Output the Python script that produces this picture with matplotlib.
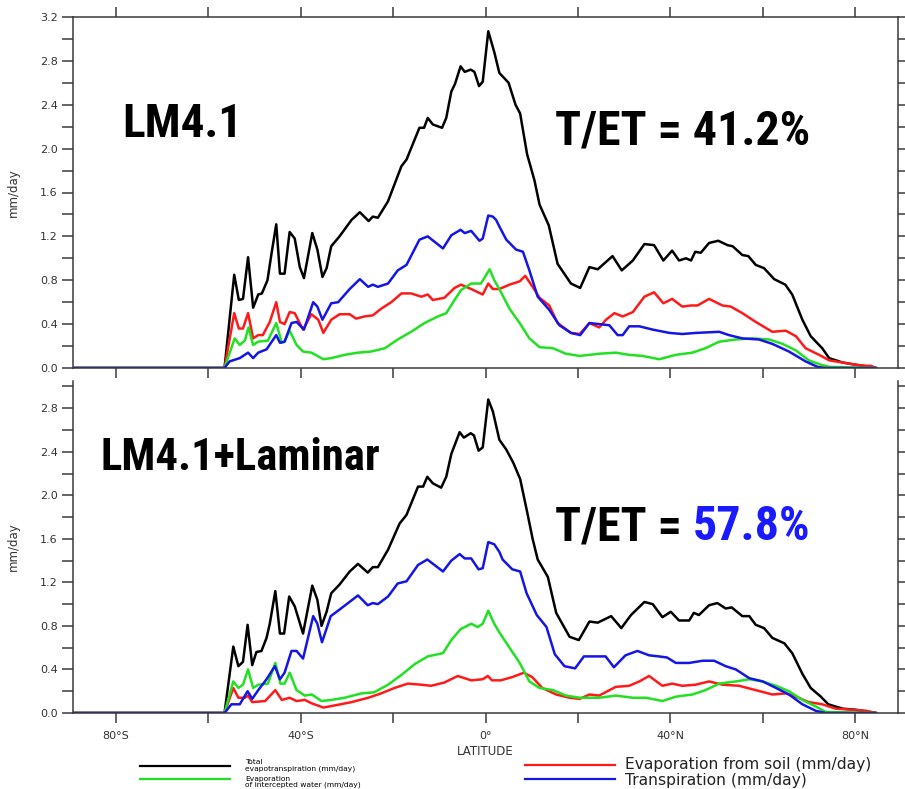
import numpy as np
import matplotlib
matplotlib.use("Agg")
import matplotlib.pyplot as plt
from matplotlib import font_manager as fm
from matplotlib.ticker import MultipleLocator, FuncFormatter
from matplotlib.lines import Line2D

# ---- LM4.1 (oben) ----
lat_et1 = [-89.5, -56.5, -54.4, -53.4, -52.5, -51.4, -50.3, -49.2, -48.4, -47.2, -46.3, -45.3, -44.5, -43.5,
           -42.4, -41.3, -40.2, -39.3, -37.5, -36.4, -35.3, -34.4, -33.4, -31.6, -29.0, -27.2, -25.3, -24.4,
           -23.3, -21.1, -18.2, -17.1, -14.3, -13.3, -12.5, -11.4, -9.4, -8.5, -7.4, -6.6, -5.4, -4.5, -3.2,
           -2.4, -1.4, -0.6, 0.6, 1.9, 3.0, 5.0, 6.5, 7.5, 9.0, 10.6, 11.7, 13.7, 15.6, 18.5, 20.5, 22.5, 24.3,
           27.5, 29.5, 31.9, 34.4, 36.5, 38.5, 40.4, 41.9, 43.4, 44.5, 45.4, 46.6, 48.4, 50.4, 52.4, 53.5, 55.6,
           56.9, 58.5, 60.3, 62.5, 64.9, 66.4, 68.6, 70.4, 72.9, 74.4, 77.3, 80.1, 83.0, 84.5]
et1 = [0, 0, 0.85, 0.62, 0.63, 1.01, 0.55, 0.67, 0.68, 0.80, 1.05, 1.31, 0.86, 0.86,
       1.24, 1.18, 0.92, 0.82, 1.23, 1.08, 0.83, 0.91, 1.11, 1.20, 1.35, 1.42, 1.34, 1.38,
       1.37, 1.52, 1.84, 1.90, 2.19, 2.19, 2.28, 2.22, 2.19, 2.28, 2.52, 2.59, 2.75, 2.70, 2.72,
       2.70, 2.57, 2.61, 3.07, 2.88, 2.69, 2.60, 2.40, 2.32, 1.95, 1.71, 1.49, 1.30, 0.95, 0.77, 0.73, 0.92, 0.90,
       1.02, 0.89, 0.98, 1.13, 1.12, 0.98, 1.07, 0.98, 1.00, 0.98, 1.06, 1.05, 1.14, 1.16, 1.12, 1.11, 1.03,
       1.02, 0.94, 0.91, 0.81, 0.76, 0.67, 0.44, 0.29, 0.18, 0.09, 0.05, 0.03, 0.01, 0.0]

lat_tr1 = [-89.5, -56.5, -55.4, -53.2, -51.4, -50.3, -49.2, -47.4, -45.3, -44.5, -43.5, -42.0, -40.9, -39.3,
           -37.3, -36.4, -35.3, -33.4, -31.9, -29.4, -27.2, -25.4, -24.4, -23.3, -21.1, -19.0, -17.1, -14.3,
           -12.5, -9.2, -7.4, -5.4, -4.5, -3.1, -1.3, -0.6, 0.6, 1.6, 2.3, 3.0, 4.5, 6.6, 8.1, 9.5, 11.3, 13.8,
           16.0, 18.5, 20.5, 22.5, 24.6, 26.8, 28.6, 29.7, 31.1, 33.3, 36.2, 39.8, 42.6, 45.6, 50.6, 52.7, 55.6,
           59.2, 62.1, 65.7, 69.3, 71.9, 73.5, 84.5]
tr1 = [0, 0, 0.06, 0.09, 0.14, 0.09, 0.14, 0.17, 0.30, 0.23, 0.24, 0.41, 0.42, 0.35,
       0.60, 0.56, 0.44, 0.59, 0.60, 0.72, 0.81, 0.74, 0.76, 0.74, 0.77, 0.89, 0.94, 1.17,
       1.20, 1.09, 1.21, 1.26, 1.23, 1.25, 1.16, 1.18, 1.39, 1.38, 1.35, 1.29, 1.17, 1.08, 1.06, 0.89, 0.65, 0.53,
       0.39, 0.32, 0.30, 0.41, 0.40, 0.39, 0.30, 0.30, 0.38, 0.38, 0.35, 0.32, 0.31, 0.32, 0.33, 0.30, 0.27,
       0.26, 0.22, 0.15, 0.06, 0.01, 0.0, 0.0]

lat_es1 = [-89.5, -56.5, -54.4, -53.4, -52.5, -51.4, -50.3, -49.2, -48.2, -46.7, -45.3, -44.5, -43.5, -42.4,
           -41.3, -39.5, -37.7, -36.2, -35.1, -33.4, -31.6, -29.4, -28.0, -26.2, -24.4, -22.6, -20.4, -18.2,
           -16.1, -13.9, -12.5, -11.4, -8.9, -6.7, -5.3, -3.1, -0.6, 0.6, 1.6, 3.0, 5.2, 7.4, 8.6, 10.2, 11.7,
           13.8, 15.6, 18.5, 20.4, 22.5, 24.6, 26.1, 27.9, 29.7, 31.9, 34.4, 36.5, 38.5, 40.4, 42.6, 44.5, 45.9,
           48.4, 51.3, 53.1, 55.6, 58.5, 62.1, 65.0, 67.2, 69.3, 72.2, 74.4, 77.3, 80.1, 82.5, 83.5, 84.5]
es1 = [0, 0, 0.50, 0.36, 0.36, 0.50, 0.27, 0.30, 0.30, 0.42, 0.60, 0.42, 0.40, 0.51,
       0.50, 0.35, 0.49, 0.44, 0.32, 0.44, 0.49, 0.49, 0.45, 0.47, 0.48, 0.54, 0.60, 0.68,
       0.68, 0.65, 0.67, 0.62, 0.64, 0.73, 0.76, 0.72, 0.67, 0.77, 0.72, 0.72, 0.76, 0.79, 0.84, 0.74, 0.64,
       0.57, 0.41, 0.32, 0.31, 0.41, 0.37, 0.44, 0.50, 0.47, 0.51, 0.65, 0.69, 0.59, 0.63, 0.56, 0.57, 0.57,
       0.63, 0.57, 0.56, 0.50, 0.42, 0.33, 0.34, 0.29, 0.18, 0.12, 0.07, 0.05, 0.03, 0.02, 0.02, 0.0]

lat_ei1 = [-89.5, -56.5, -54.3, -53.2, -52.1, -51.3, -50.3, -49.2, -47.1, -45.3, -44.1, -43.5, -42.4, -40.9,
           -39.5, -37.7, -35.1, -33.4, -30.5, -27.6, -24.8, -21.8, -19.0, -16.1, -13.2, -10.3, -8.5, -6.7,
           -5.3, -3.1, -1.0, 0.9, 1.9, 3.0, 5.2, 7.4, 9.5, 11.7, 14.6, 17.4, 20.4, 24.6, 28.2, 31.1, 34.0,
           37.6, 41.2, 44.8, 47.6, 50.6, 54.2, 57.8, 61.4, 64.3, 67.2, 70.0, 72.6, 74.4, 84.5]
ei1 = [0, 0, 0.27, 0.21, 0.25, 0.37, 0.21, 0.24, 0.25, 0.41, 0.23, 0.24, 0.34, 0.21,
       0.15, 0.14, 0.08, 0.09, 0.12, 0.14, 0.15, 0.18, 0.26, 0.33, 0.41, 0.47, 0.50, 0.62,
       0.71, 0.77, 0.77, 0.90, 0.80, 0.72, 0.54, 0.41, 0.27, 0.19, 0.18, 0.13, 0.11, 0.13, 0.14, 0.12, 0.11,
       0.08, 0.12, 0.14, 0.18, 0.24, 0.26, 0.27, 0.26, 0.22, 0.16, 0.07, 0.03, 0.01, 0.0]

# ---- LM4.1+Laminar (unten) ----
lat_et2 = [-89.5, -56.5, -54.6, -53.5, -52.5, -51.5, -50.5, -49.6, -48.5, -47.4, -46.7, -45.5, -44.5, -43.6,
           -42.5, -41.3, -39.5, -37.5, -36.4, -35.5, -34.4, -33.4, -31.6, -29.4, -27.6, -25.5, -24.4, -23.3,
           -21.1, -18.6, -17.1, -14.6, -13.5, -12.6, -11.4, -9.6, -8.5, -7.4, -5.6, -4.7, -3.2, -2.5, -1.5,
           -0.6, 0.6, 1.6, 3.0, 4.5, 6.0, 7.5, 9.0, 10.2, 11.3, 13.5, 15.3, 18.2, 20.2, 22.5, 24.3, 27.2, 29.4,
           31.5, 34.4, 36.2, 38.3, 40.1, 41.9, 44.1, 45.1, 46.2, 48.4, 50.2, 52.0, 53.3, 55.6, 57.1, 58.5, 60.3,
           62.1, 64.7, 66.4, 68.6, 70.4, 72.6, 74.2, 77.3, 80.1, 83.0, 84.5]
et2 = [0, 0, 0.61, 0.43, 0.47, 0.81, 0.44, 0.56, 0.57, 0.69, 0.82, 1.12, 0.73, 0.73,
       1.07, 0.98, 0.73, 1.17, 1.04, 0.80, 0.93, 1.10, 1.18, 1.30, 1.37, 1.29, 1.34, 1.34,
       1.50, 1.74, 1.82, 2.08, 2.08, 2.17, 2.11, 2.07, 2.17, 2.38, 2.58, 2.53, 2.57, 2.55, 2.41,
       2.44, 2.88, 2.77, 2.51, 2.42, 2.30, 2.15, 1.85, 1.60, 1.41, 1.25, 0.92, 0.70, 0.67, 0.84, 0.83, 0.89, 0.78,
       0.90, 1.02, 1.00, 0.88, 0.93, 0.85, 0.85, 0.92, 0.90, 0.99, 1.01, 0.96, 0.97, 0.89, 0.89, 0.81, 0.78,
       0.69, 0.64, 0.55, 0.36, 0.23, 0.15, 0.08, 0.04, 0.03, 0.01, 0.0]

lat_tr2 = [-89.5, -56.5, -55.0, -53.2, -51.5, -50.5, -49.2, -47.4, -45.6, -44.5, -43.5, -42.0, -40.9, -39.5,
           -37.3, -36.4, -35.4, -33.5, -31.6, -27.6, -25.5, -24.4, -23.3, -21.1, -19.0, -17.1, -14.6, -12.6,
           -9.2, -7.4, -5.6, -4.5, -3.1, -1.5, -0.6, 0.6, 1.9, 3.0, 3.7, 5.8, 7.5, 8.9, 11.1, 13.2, 15.0, 17.1,
           19.4, 21.3, 23.9, 26.0, 27.8, 30.3, 32.9, 35.4, 37.5, 39.3, 41.2, 44.1, 47.0, 49.5, 52.0, 54.2, 57.1,
           60.0, 62.9, 65.7, 68.6, 71.5, 73.6, 84.5]
tr2 = [0, 0, 0.08, 0.08, 0.20, 0.13, 0.21, 0.31, 0.43, 0.31, 0.37, 0.57, 0.57, 0.50,
       0.89, 0.82, 0.65, 0.89, 0.95, 1.08, 0.99, 1.01, 1.00, 1.07, 1.19, 1.21, 1.36, 1.41,
       1.30, 1.40, 1.46, 1.42, 1.42, 1.32, 1.33, 1.57, 1.55, 1.48, 1.41, 1.32, 1.30, 1.10, 0.90, 0.79, 0.54, 0.43,
       0.41, 0.52, 0.52, 0.52, 0.42, 0.53, 0.57, 0.53, 0.52, 0.51, 0.46, 0.46, 0.48, 0.48, 0.43, 0.40, 0.32,
       0.29, 0.23, 0.17, 0.08, 0.02, 0.0, 0.0]

lat_es2 = [-89.5, -56.5, -54.6, -53.5, -52.1, -51.4, -50.5, -47.7, -45.5, -44.1, -42.4, -40.9, -39.1, -37.7,
           -35.1, -32.6, -29.0, -25.4, -22.6, -19.7, -16.8, -13.9, -11.8, -8.9, -6.0, -3.1, -0.6, 0.5, 1.4, 3.3,
           5.8, 8.3, 10.1, 12.3, 15.3, 18.2, 20.4, 22.5, 24.6, 28.2, 31.1, 33.3, 35.4, 38.3, 40.4, 42.6, 45.5,
           48.4, 51.3, 54.9, 58.5, 62.1, 65.0, 67.2, 70.0, 72.9, 75.8, 79.4, 82.5, 84.5]
es2 = [0, 0, 0.23, 0.14, 0.14, 0.16, 0.10, 0.11, 0.21, 0.12, 0.14, 0.11, 0.12, 0.09,
       0.05, 0.07, 0.10, 0.14, 0.18, 0.23, 0.27, 0.26, 0.25, 0.28, 0.34, 0.30, 0.31, 0.34, 0.30, 0.30,
       0.33, 0.37, 0.33, 0.23, 0.17, 0.14, 0.13, 0.17, 0.16, 0.24, 0.25, 0.29, 0.34, 0.25, 0.27, 0.25, 0.26,
       0.29, 0.26, 0.25, 0.21, 0.17, 0.18, 0.15, 0.10, 0.08, 0.04, 0.03, 0.02, 0.0]

lat_ei2 = [-89.5, -56.5, -54.6, -53.5, -52.5, -51.4, -50.3, -49.2, -47.1, -45.5, -44.4, -43.5, -42.4, -40.9,
           -39.1, -37.6, -35.5, -33.4, -30.5, -26.9, -24.1, -21.1, -18.2, -15.3, -12.5, -9.2, -7.4, -5.4, -3.1,
           -1.7, -0.6, 0.6, 1.9, 3.0, 5.2, 7.4, 9.5, 11.7, 14.6, 17.4, 20.4, 24.6, 28.2, 31.9, 34.8, 38.3, 41.2,
           44.8, 47.6, 50.6, 54.2, 57.1, 60.0, 62.9, 65.7, 68.6, 71.5, 73.6, 84.5]
ei2 = [0, 0, 0.29, 0.23, 0.26, 0.40, 0.23, 0.26, 0.27, 0.46, 0.27, 0.27, 0.37, 0.21,
       0.16, 0.17, 0.11, 0.12, 0.14, 0.18, 0.19, 0.26, 0.35, 0.45, 0.52, 0.55, 0.67, 0.77, 0.82,
       0.79, 0.82, 0.94, 0.82, 0.74, 0.60, 0.46, 0.29, 0.23, 0.21, 0.16, 0.14, 0.14, 0.16, 0.14, 0.14, 0.11, 0.15,
       0.17, 0.21, 0.27, 0.29, 0.31, 0.29, 0.25, 0.20, 0.12, 0.06, 0.01, 0.0]

xticks = [-80, -60, -40, -20, 0, 20, 40, 60, 80]
xticklabels = ['80°S', '', '40°S', '', '0°', '', '40°N', '', '80°N']

c_et = 'black'
c_es = '#ff1a1a'
c_ei = '#22e022'
c_tr = '#1515e6'
spine_c = '#3a3a3a'

fig = plt.figure(figsize=(9.05, 7.89), dpi=100)
W, H = 905, 789


# schmale fette Schrift suchen, sonst Roboto etwas kleiner
def find_narrow_bold():
    cands = []
    for f in fm.fontManager.ttflist:
        nm = f.name.lower()
        path = f.fname.lower()
        narrow = ('condensed' in nm or 'narrow' in nm or 'condensed' in path or 'narrow' in path
                  or f.stretch in ('condensed', 'semi-condensed', 'extra-condensed'))
        bold = (f.weight in ('bold', 700, 'semibold', 600) or 'bold' in path)
        if narrow and bold and 'italic' not in path and 'oblique' not in path:
            score = 0
            if 'roboto' in path:
                score -= 10
            if 'semicondensed' in path or 'semi' in path:
                score += 3
            if 'extra' in path:
                score += 5
            if 'black' in path or 'extrabold' in path or 'semibold' in path:
                score += 2
            cands.append((score, f.fname))
    if cands:
        cands.sort()
        return fm.FontProperties(fname=cands[0][1]), 1.0
    return fm.FontProperties(family='Roboto', weight='bold'), 0.82


bigfp, bigscale = find_narrow_bold()


def bigtext(x, y, s, size, color='black'):
    fp = bigfp.copy()
    fp.set_size(size * bigscale)
    return fig.text(x / W, 1 - y / H, s, fontproperties=fp, va='baseline', color=color)


def panel(rect, top_ylim, series, show_top_ticks, show_xlabels):
    ax = fig.add_axes(rect)
    for lats, vals, col in series:
        ax.plot(lats, vals, color=col, lw=1.8, solid_joinstyle='round')
    ax.set_xlim(-89.3, 89.3)
    ax.set_ylim(0, top_ylim)
    ax.yaxis.set_major_locator(MultipleLocator(0.2))
    ax.yaxis.set_major_formatter(FuncFormatter(
        lambda v, p: ('%.1f' % v) if abs(v / 0.4 - round(v / 0.4)) < 1e-6 else ''))
    ax.set_xticks(xticks)
    ax.set_xticklabels(xticklabels if show_xlabels else [''] * len(xticks))
    ax.tick_params(axis='y', direction='out', length=8, width=1.1, color=spine_c,
                   labelsize=8, labelcolor='#333333', right=True, pad=3)
    ax.tick_params(axis='x', direction='out', length=7, width=1.1, color=spine_c,
                   labelsize=8, labelcolor='#333333', top=show_top_ticks, pad=6)
    for s in ax.spines.values():
        s.set_color(spine_c)
        s.set_linewidth(1.1)
    if not show_top_ticks:
        ax.spines['top'].set_visible(False)
    ax.set_ylabel('mm/day', fontsize=8.5, color='#333333')
    ax.yaxis.set_label_coords(-0.065, 0.5)
    return ax


ax1 = panel([73 / W, 1 - 368 / H, 825 / W, 351 / H], 3.2,
            [(lat_et1, et1, c_et), (lat_es1, es1, c_es), (lat_ei1, ei1, c_ei), (lat_tr1, tr1, c_tr)],
            True, False)
ax2 = panel([73 / W, 1 - 713 / H, 825 / W, 332 / H], 3.05,
            [(lat_et2, et2, c_et), (lat_es2, es2, c_es), (lat_ei2, ei2, c_ei), (lat_tr2, tr2, c_tr)],
            False, True)
ax2.set_xlabel('LATITUDE', fontsize=8.5, color='#333333', labelpad=3)

# grosse Beschriftungen
bigtext(122, 137, 'LM4.1', 34)
bigtext(555, 145, 'T/ET = 41.2%', 34.5)
bigtext(100, 470, 'LM4.1+Laminar', 32.2)
t = bigtext(555, 540, 'T/ET = ', 34.5)
fig.canvas.draw()
bb = t.get_window_extent()
bigtext(bb.x1, 540, '57.8%', 34.5, color='#1a1aff')


# Legende von Hand
def leg_line(x0, x1, y, col):
    fig.add_artist(Line2D([x0 / W, x1 / W], [1 - y / H, 1 - y / H], color=col, lw=1.6))


leg_line(140, 230, 766, c_et)
leg_line(140, 230, 779, c_ei)
leg_line(525, 615, 765, c_es)
leg_line(525, 615, 779, c_tr)
fig.text(245 / W, 1 - 765.5 / H, 'Total\nevapotranspiration (mm/day)', fontsize=5.4, va='center',
         linespacing=0.95)
fig.text(245 / W, 1 - 782 / H, 'Evaporation\nof intercepted water (mm/day)', fontsize=5.4, va='center',
         linespacing=0.95)
fig.text(625 / W, 1 - 764 / H, 'Evaporation from soil (mm/day)', fontsize=11.2, va='center', color='#222222')
fig.text(625 / W, 1 - 780.5 / H, 'Transpiration (mm/day)', fontsize=11.2, va='center', color='#222222')

fig.savefig('out.png', dpi=100)
